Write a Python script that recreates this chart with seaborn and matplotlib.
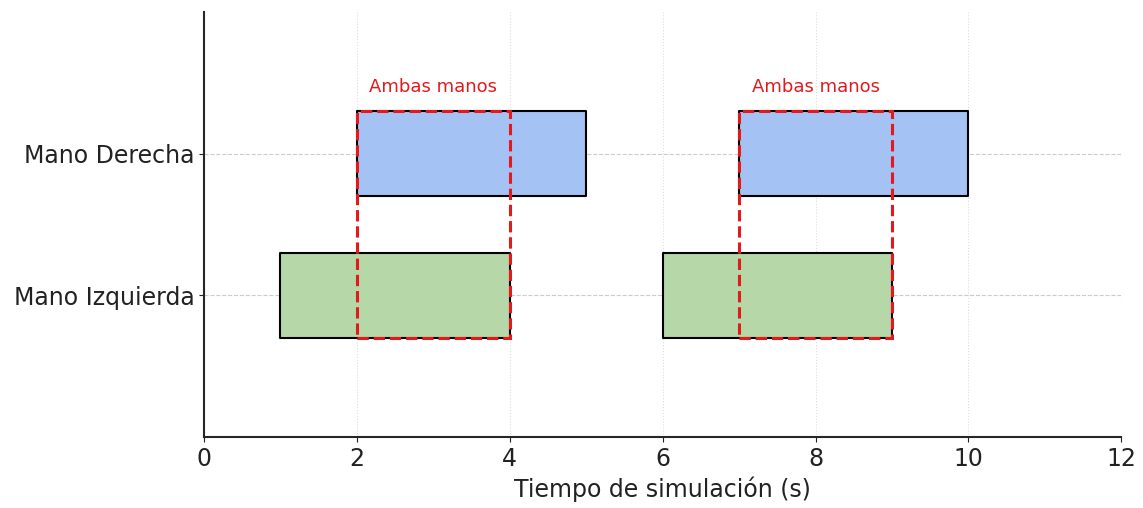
import pandas as pd
import seaborn as sns
import matplotlib.pyplot as plt
from matplotlib.patches import Rectangle

# Datos
manos = ["Mano Izquierda", "Mano Derecha"]
inicio_izq = [1, 6]
duracion_izq = [3, 3]
inicio_der = [2, 7]
duracion_der = [3, 3]
ambas_inicio = [2, 7]
ambas_duracion = [2, 2]

df = pd.DataFrame({
    "Mano": [manos[0]] * 2 + [manos[1]] * 2,
    "Inicio": inicio_izq + inicio_der,
    "Duracion": duracion_izq + duracion_der,
})

sns.set_style("ticks")
plt.rcParams['font.family'] = ['DejaVu Sans']

fig = plt.figure(figsize=(11.43, 5.08), dpi=100)
ax = fig.add_axes([0.1785, 0.140, 0.8025, 0.836])

colores = {manos[0]: "#b6d7a8", manos[1]: "#a4c2f4"}
alto = 0.6
for i, mano in enumerate(manos):
    sub = df[df["Mano"] == mano]
    ax.broken_barh(list(zip(sub["Inicio"], sub["Duracion"])), (i - alto / 2, alto),
                   facecolors=colores[mano], edgecolor="black", linewidth=1.5, zorder=3)

# Zonas en que ambas manos actúan
for x0, w in zip(ambas_inicio, ambas_duracion):
    ax.add_patch(Rectangle((x0, -alto / 2), w, 1 + alto, fill=False, edgecolor="#e31a1c",
                           linestyle="--", linewidth=2.2, zorder=4))
    ax.text(x0 + w / 2, 1.47, "Ambas manos", color="#e31a1c", ha="center", va="center",
            fontsize=13, zorder=5)

ax.set_xlim(0, 12)
ax.set_ylim(-1, 2)
ax.set_xticks(range(0, 13, 2))
ax.set_yticks([0, 1])
ax.set_yticklabels(manos)
ax.tick_params(axis="both", labelsize=17, colors="#222222")
ax.set_xlabel("Tiempo de simulación (s)", fontsize=17, color="#222222")
ax.grid(True, axis="y", linestyle="--", color="#cccccc", linewidth=0.8)
ax.grid(True, axis="x", linestyle=":", color="#dddddd", linewidth=0.8)
ax.set_axisbelow(True)
for s in ["left", "bottom"]:
    ax.spines[s].set_linewidth(1.5)
sns.despine(ax=ax)

fig.savefig("out.png", dpi=100)
